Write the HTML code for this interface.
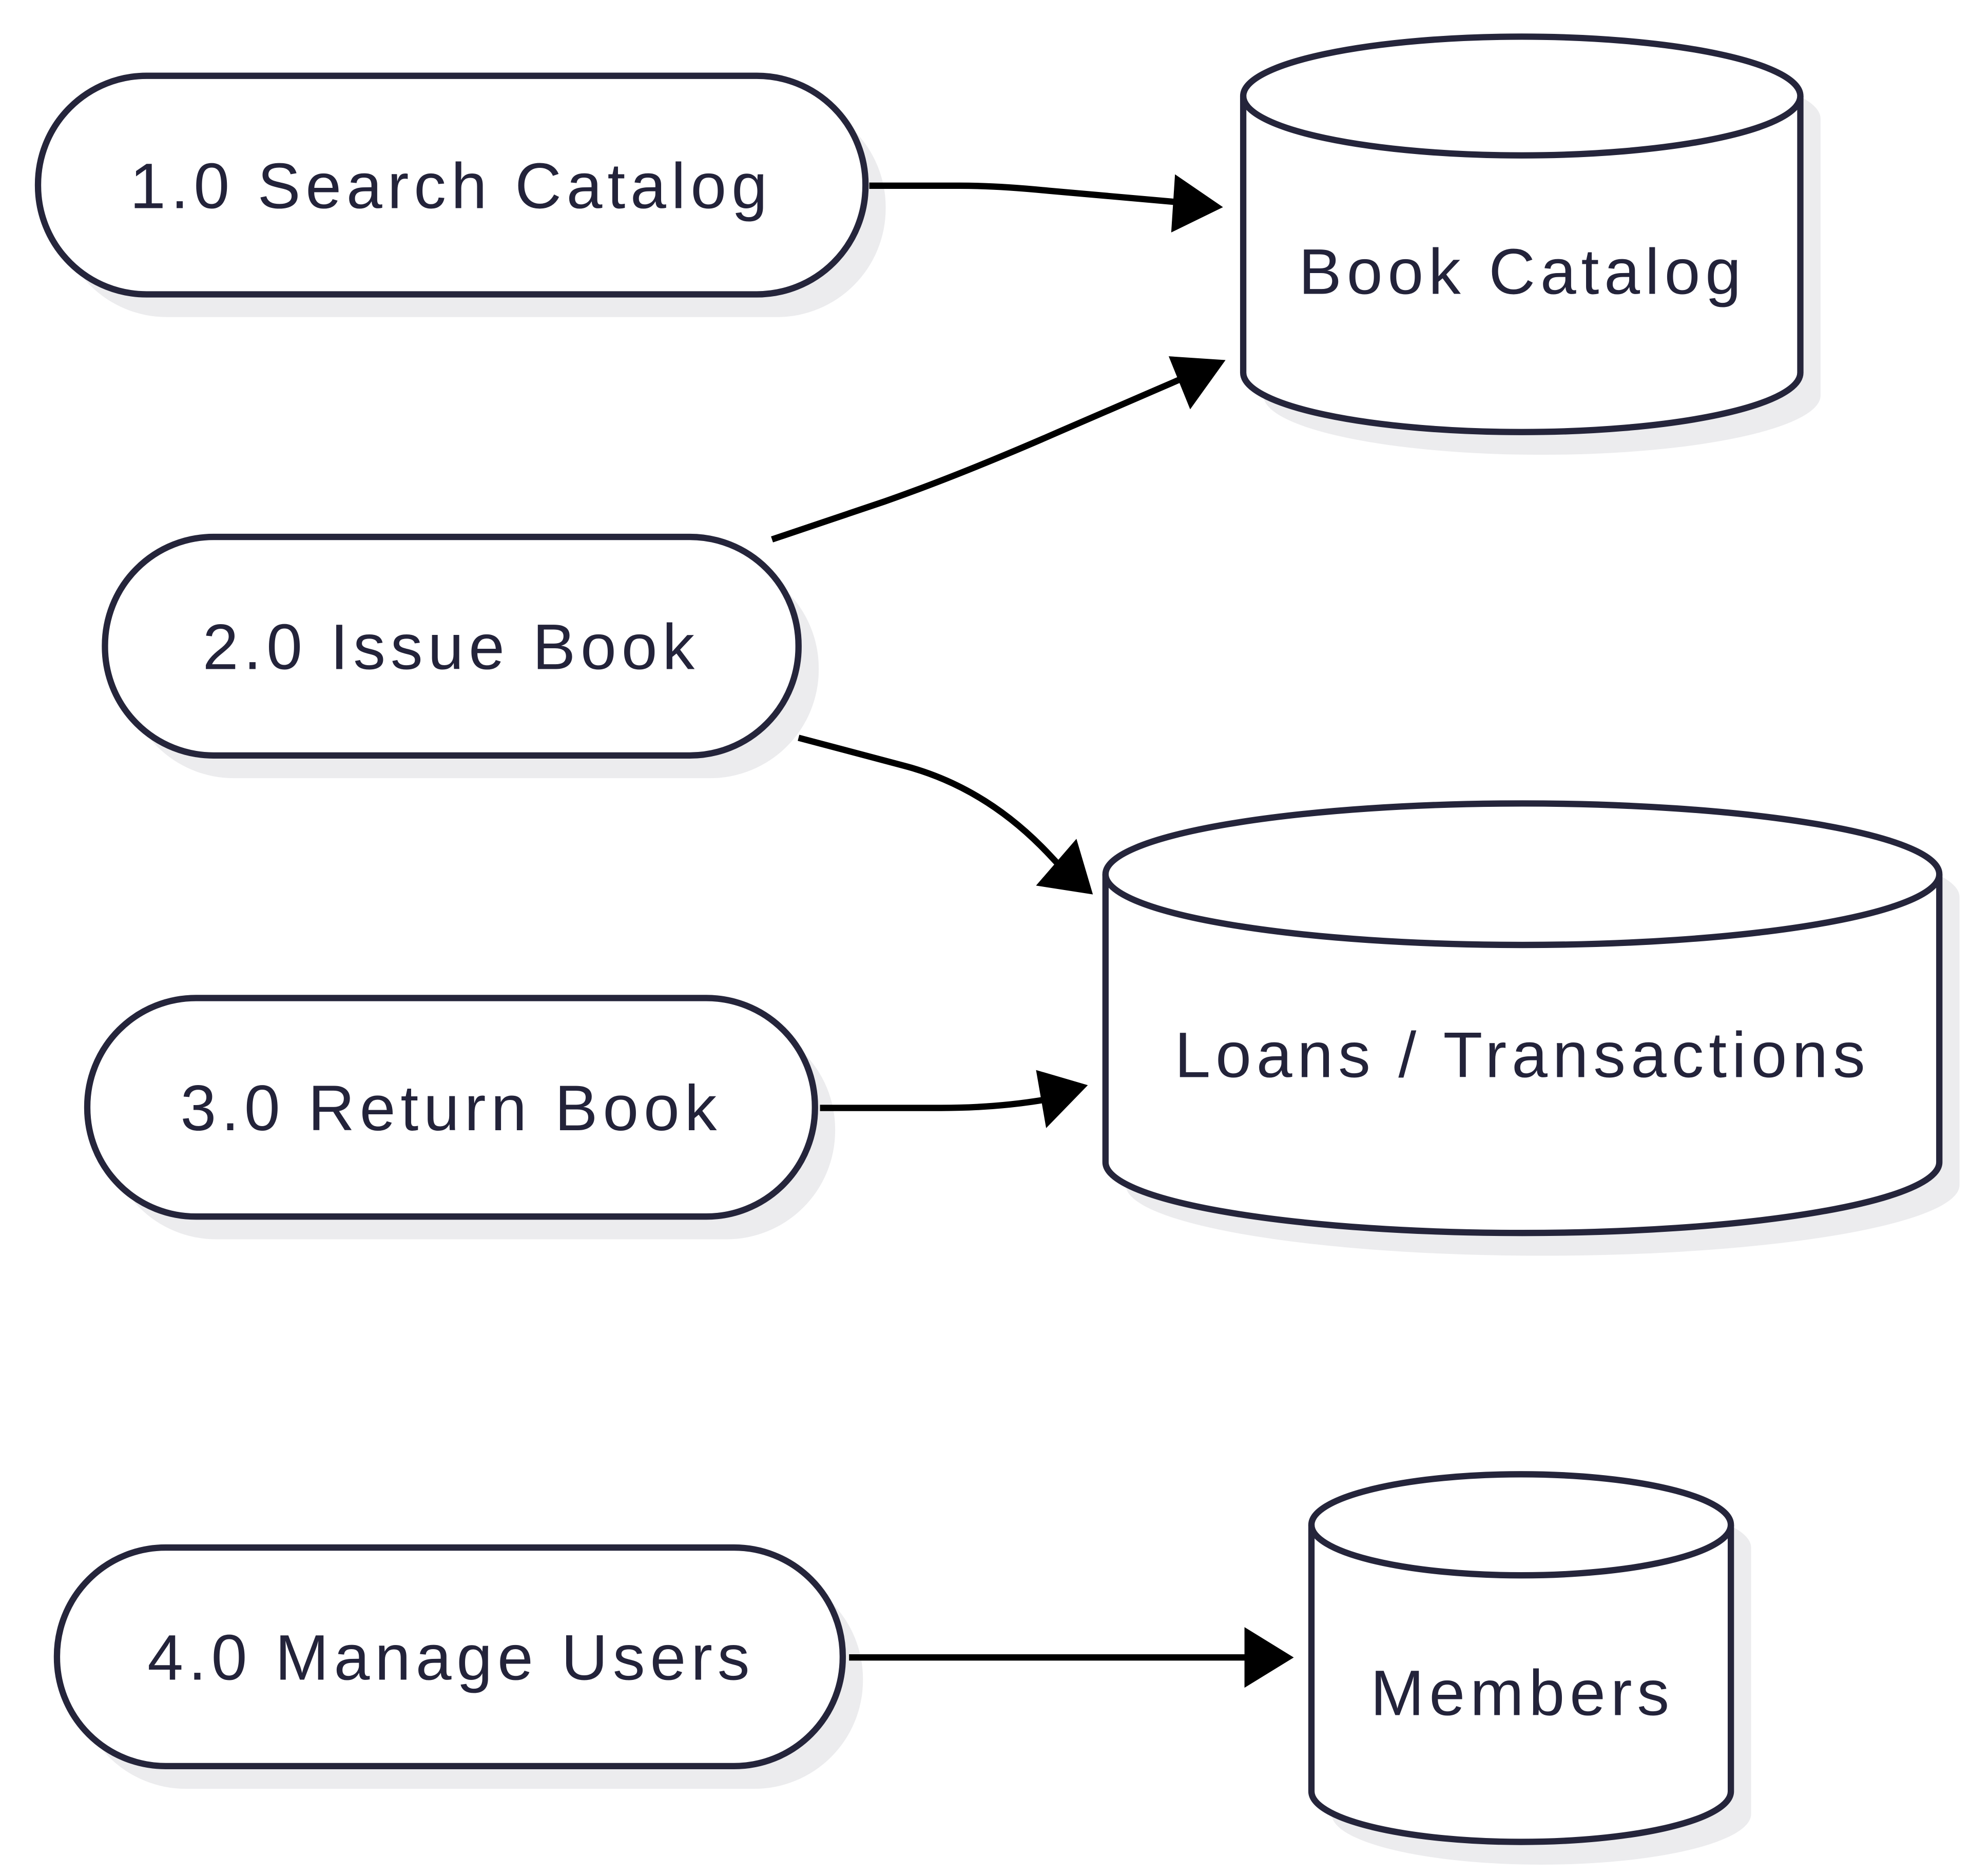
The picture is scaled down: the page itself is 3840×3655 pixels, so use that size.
<!DOCTYPE html>
<html><head><meta charset="utf-8"><style>
html,body{margin:0;padding:0;background:#fff;}
svg{display:block;}
text{font-family:"Liberation Sans",sans-serif;fill:#23233a;font-size:51px;text-anchor:middle;dominant-baseline:central;letter-spacing:4px;}
</style></head><body>
<svg width="3840" height="3655" viewBox="0 0 1560 1485" xmlns="http://www.w3.org/2000/svg">
<g fill="#ececee" stroke="none">
<rect x="46" y="78" width="655" height="173" rx="86"/>
<rect x="99" y="443" width="549" height="173" rx="86"/>
<rect x="85" y="808" width="576" height="173" rx="86"/>
<rect x="61" y="1243" width="622" height="173" rx="86"/>
<path d="M1000,94 A220.5,47 0 0 1 1441,94 L1441,313 A220.5,47 0 0 1 1000,313 Z"/>
<path d="M891,710 A330,56 0 0 1 1551,710 L1551,938 A330,56 0 0 1 891,938 Z"/>
<path d="M1054,1225 A166,40 0 0 1 1386,1225 L1386,1436 A166,40 0 0 1 1054,1436 Z"/>
</g>
<g fill="#fff" stroke="#25253b" stroke-width="5">
<rect x="30" y="60" width="655" height="173" rx="86"/>
<rect x="83" y="425" width="549" height="173" rx="86"/>
<rect x="69" y="790" width="576" height="173" rx="86"/>
<rect x="45" y="1225" width="622" height="173" rx="86"/>
<path d="M984,76 A220.5,47 0 0 1 1425,76 L1425,295 A220.5,47 0 0 1 984,295 Z"/>
<path d="M984,76 A220.5,47 0 0 0 1425,76" fill="none"/>
<path d="M875,692 A330,56 0 0 1 1535,692 L1535,920 A330,56 0 0 1 875,920 Z"/>
<path d="M875,692 A330,56 0 0 0 1535,692" fill="none"/>
<path d="M1038,1207 A166,40 0 0 1 1370,1207 L1370,1418 A166,40 0 0 1 1038,1418 Z"/>
<path d="M1038,1207 A166,40 0 0 0 1370,1207" fill="none"/>
</g>
<text x="357" y="147">1.0 Search Catalog</text>
<text x="357" y="512">2.0 Issue Book</text>
<text x="357" y="877">3.0 Return Book</text>
<text x="357" y="1312">4.0 Manage Users</text>
<text x="1205" y="215">Book Catalog</text>
<text x="1205" y="835">Loans / Transactions</text>
<text x="1205" y="1340">Members</text>
<g fill="none" stroke="#000" stroke-width="5">
<path d="M688,147 L760,147 Q790,147 830,151 L932,160"/>
<path d="M611,427 L700,397 Q760,376 840,341 L944,296"/>
<path d="M632,584 L715,606 Q780,623 830,676 L845,692"/>
<path d="M649,877 L745,877 Q790,877 830,870"/>
<path d="M672,1312 L988,1312"/>
</g>
<g fill="#000">
<polygon points="968,164 930,138 927,184"/>
<polygon points="970,285 925,282 942,324"/>
<polygon points="865,708 852,664 820,701"/>
<polygon points="861,859 820,847 828,893"/>
<polygon points="1024,1312 985,1288 985,1336"/>
</g>
</svg>
</body></html>
